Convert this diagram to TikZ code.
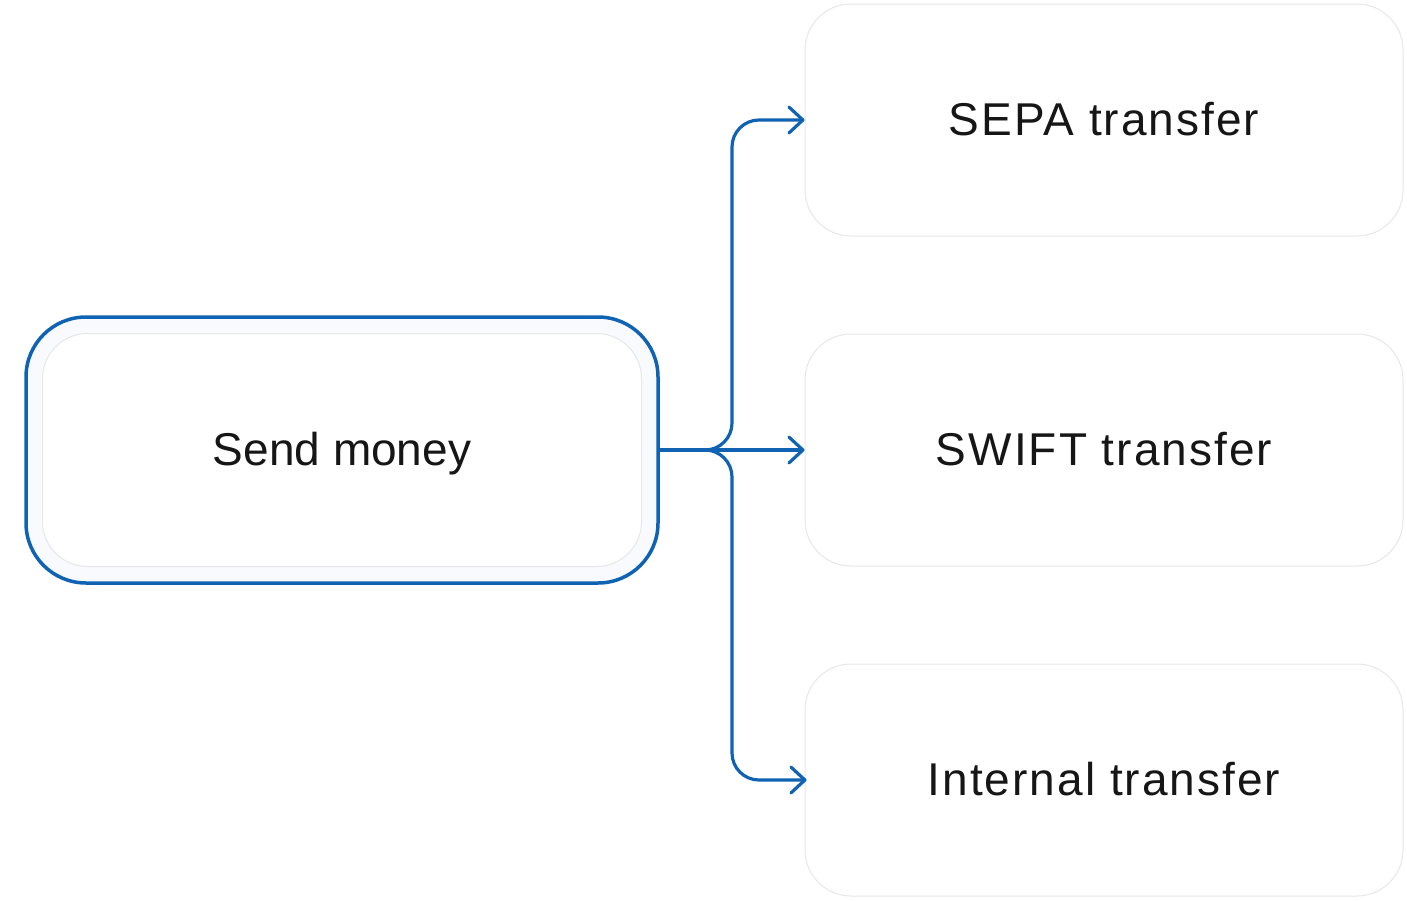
\documentclass[tikz,border=0pt]{standalone}
\usepackage{fontspec}
\setmainfont{Liberation Sans}
\newfontfamily\widesans[LetterSpace=4.4]{Liberation Sans}
\usetikzlibrary{arrows.meta}
\definecolor{flowblue}{RGB}{16,99,178}
\definecolor{boxgray}{RGB}{230,231,233}
\definecolor{softfill}{RGB}{248,250,253}
\definecolor{inkblack}{RGB}{22,22,22}
\begin{document}
\begin{tikzpicture}[x=1pt,y=-1pt,
  label text/.style={font=\fontsize{46}{54}\selectfont, text=inkblack, text height=31pt, text depth=0pt},
  wide text/.style={font=\fontsize{46}{54}\selectfont\widesans, text=inkblack, text height=31pt, text depth=0pt},
  target box/.style={draw=boxgray, line width=1pt, fill=white, rounded corners=46pt,
    minimum width=598pt, minimum height=232pt, inner sep=0pt},
  flow/.style={draw=flowblue, line width=3.2pt, line cap=round, line join=round,
    -{Straight Barb[length=14pt,width=26pt,line cap=round,line join=round]}},
]
\useasboundingbox (0,0) rectangle (1407,900);
% source box
\node[draw=flowblue, line width=3.5pt, fill=softfill, rounded corners=60pt,
  minimum width=632pt, minimum height=266pt, inner sep=0pt] (src) at (342,450) {};
\node[draw=boxgray, line width=1pt, fill=white, rounded corners=45pt,
  minimum width=599pt, minimum height=233pt, inner sep=0pt, label text] (srcin) at (342,450) {Send money};
% targets
\node[target box, wide text] (sepa) at (1104,120) {SEPA transfer};
\node[target box, wide text] (swift) at (1104,450) {SWIFT transfer};
\node[target box, wide text] (internal) at (1104,780) {Internal transfer};
% junction coordinates
\coordinate (jtop) at (732,450);
\coordinate (jbot) at (732,450);
% connectors
\draw[flow] (src.east) -- (swift.west);
\draw[flow, rounded corners=27pt] (src.east) -- (jtop) |- (sepa.west);
\draw[flow, rounded corners=27pt] (src.east) -- (jbot) |- ([xshift=2pt]internal.west);
\end{tikzpicture}
\end{document}
